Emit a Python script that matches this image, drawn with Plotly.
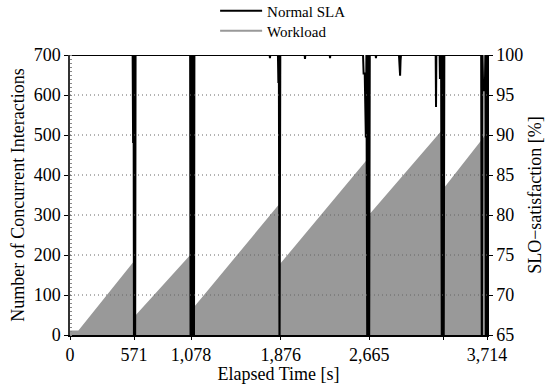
import plotly.graph_objects as go

# Workload (number of concurrent interactions) - breakpoints
wl_time = [0, 75, 566, 566, 1090, 1090, 1866, 1866, 2650, 2650, 3318, 3318, 3714]
wl_value = [11, 11, 183, 44, 206, 65, 328, 176, 440, 296, 514, 363, 505]

# Normal SLA (SLO satisfaction, %)
sla_time = [0, 558, 562, 566, 570, 575, 580, 584,
            1070, 1074, 1079, 1084, 1089, 1094, 1099, 1104, 1108,
            1778, 1781, 1784,
            1852, 1856, 1860, 1866, 1873,
            2090, 2093, 2096,
            2313, 2316, 2319,
            2610, 2615, 2625, 2635, 2640, 2648, 2656, 2664, 2670,
            2722, 2725, 2728,
            2930, 2934, 2940, 2944, 2948,
            3257, 3260, 3263,
            3292, 3295, 3298,
            3305, 3312, 3320, 3328, 3334,
            3662, 3668, 3674, 3680, 3695, 3699, 3704, 3709, 3714]
sla_value = [100, 100, 89, 100, 60, 100, 60, 100,
             100, 60, 100, 60, 100, 60, 100, 60, 100,
             100, 99.6, 100,
             100, 96.5, 100, 60, 100,
             100, 99.5, 100,
             100, 99.6, 100,
             100, 97.7, 97.7, 89.7, 100, 60, 100, 60, 100,
             100, 99.6, 100,
             100, 99.3, 97.4, 99.3, 100,
             100, 93.5, 100,
             100, 97.0, 100,
             100, 60, 100, 60, 100,
             100, 60, 100, 95.6, 95.6, 100, 60, 100, 100]

x_ticks = [0, 571, 1078, 1876, 2665, 3330, 3714]
x_ticktext = ["0", "571", "1,078", "1,876", "2,665", "", "3,714"]
y_ticks = [0, 100, 200, 300, 400, 500, 600, 700]
y2_ticks = [65, 70, 75, 80, 85, 90, 95, 100]
grid_levels = [100, 200, 300, 400, 500, 600]

FONT = '"Liberation Serif", "DejaVu Serif", serif'
GRAY = "#999999"

fig = go.Figure()
fig.add_trace(go.Scatter(x=wl_time, y=wl_value, mode="lines", fill="tozeroy",
                         fillcolor=GRAY, line=dict(color=GRAY, width=0),
                         showlegend=False, hoverinfo="skip"))
fig.add_trace(go.Scatter(x=sla_time, y=sla_value, mode="lines", name="Normal SLA",
                         line=dict(color="black", width=2), yaxis="y2", legend="legend"))
fig.add_trace(go.Scatter(x=[None], y=[None], mode="lines", name="Workload",
                         line=dict(color=GRAY, width=2), legend="legend2"))

shapes = [dict(type="line", xref="paper", x0=0, x1=1, yref="y", y0=g, y1=g,
               line=dict(color="#666666", width=1, dash="1px,3px"), layer="above")
          for g in grid_levels]

legend_common = dict(x=0.348, xanchor="left", yanchor="middle",
                     bgcolor="rgba(0,0,0,0)", font=dict(family=FONT, size=15),
                     itemwidth=42)

fig.update_layout(
    width=547, height=384,
    margin=dict(l=70, r=60, t=55, b=49, autoexpand=False),
    paper_bgcolor="white", plot_bgcolor="white",
    font=dict(family=FONT, size=18, color="black"),
    shapes=shapes,
    legend=dict(y=1.157, **legend_common),
    legend2=dict(y=1.086, **legend_common),
    xaxis=dict(range=[0, 3714], tickvals=x_ticks, ticktext=x_ticktext,
               ticks="outside", ticklen=3, tickcolor="black",
               tickfont=dict(family=FONT, size=18),
               showline=True, linecolor="black", linewidth=1.5,
               showgrid=False, zeroline=False,
               title=dict(text="Elapsed Time [s]", standoff=1, font=dict(family=FONT, size=18))),
    yaxis=dict(range=[0, 700], tickvals=y_ticks,
               ticks="outside", ticklen=4, tickcolor="black",
               tickfont=dict(family=FONT, size=18),
               showline=True, linecolor="#333333", linewidth=1.5,
               showgrid=False, zeroline=False,
               minor=dict(ticks="inside", ticklen=2, dtick=10, tickcolor="#888888"),
               title=dict(text="Number of Concurrent Interactions", standoff=4,
                          font=dict(family=FONT, size=18))),
    yaxis2=dict(range=[65, 100], tickvals=y2_ticks, overlaying="y", side="right",
                ticks="outside", ticklen=4, tickcolor="black",
                tickfont=dict(family=FONT, size=18),
                showline=True, linecolor="black", linewidth=1.5,
                showgrid=False, zeroline=False,
                title=dict(text="SLO\u2212satisfaction [%]", standoff=6,
                           font=dict(family=FONT, size=18))),
)

fig.write_html("out.html")
